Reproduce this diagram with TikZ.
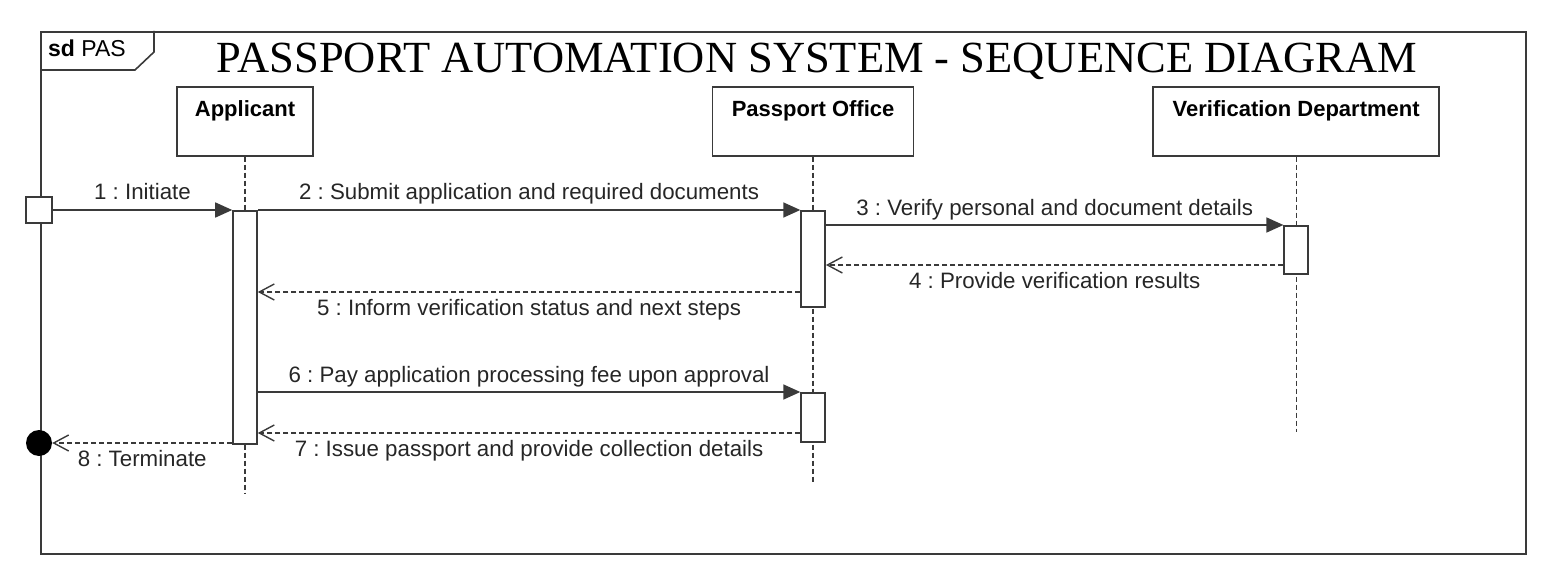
\documentclass[tikz,border=0pt]{standalone}
\usepackage{fontspec}
\setmainfont{Liberation Sans}
\newfontfamily\titlefont{Liberation Serif}
\usetikzlibrary{%
    arrows.meta,
    positioning
}
\frenchspacing
\definecolor{umlline}{HTML}{3A3A3A}
\tikzset{lifehead/.style = {draw=umlline, line width=1.6pt, fill=white, inner ysep=12pt, text height=18pt, text depth=27pt, font=\fontsize{22}{26}\selectfont\bfseries}}
\tikzset{actbar/.style = {draw=umlline, line width=1.6pt, fill=white, minimum width=24pt, anchor=north, inner sep=0pt}}
\tikzset{lifeline/.style = {umlline, line width=1.4pt, dash pattern=on 5pt off 3pt}}
\tikzset{callarrow/.style = {umlline, line width=1.6pt, -{Triangle[length=17pt,width=15pt]}}}
\tikzset{replyarrow/.style = {umlline, line width=1.4pt, dash pattern=on 5pt off 3pt, -{Straight Barb[length=15pt,width=16pt]}}}
\tikzset{msglabel/.style = {font=\fontsize{22.3}{26}\selectfont, text=black!85, inner sep=0pt, anchor=base}}

\begin{document}
\begin{tikzpicture}[x=1pt, y=-1pt]
    \useasboundingbox (0,0) rectangle (1558,580);

    % frame and title
    \node[draw=umlline, line width=1.6pt, minimum width=1485pt, minimum height=522pt, anchor=north west, inner sep=0pt] (frame) at (40,31) {};
    \draw[umlline, line width=1.6pt] (154,31) -- (154,52) -- (135,70) -- (frame.north west |- 0,70);
    \node[anchor=base west, inner sep=0pt, font=\fontsize{23}{27}\selectfont] (tab) at (48,57) {\textbf{sd} PAS};
    \node[anchor=base, inner sep=0pt, font=\titlefont\fontsize{44.5}{50}\selectfont] (title) at (817,73) {PASSPORT AUTOMATION SYSTEM - SEQUENCE DIAGRAM};

    % lifeline heads
    \node[lifehead, minimum width=136pt, anchor=north] (appl) at (245,86) {Applicant};
    \node[lifehead, minimum width=201pt] (office) [right=398pt of appl] {Passport Office};
    \node[lifehead, minimum width=286pt] (verif) [right=238pt of office] {Verification Department};

    % lifelines
    \foreach \Head/\Len in {appl/337, office/325, verif/275}
        {
        \path (\Head.south) ++(0,\Len) coordinate (\Head-end);
        \draw[lifeline] (\Head.south) -- (\Head-end);
        }

    % activation bars
    \node[actbar, minimum height=233pt] (appl-act) at (appl.south |- 0,210) {};
    \node[actbar, minimum height=96pt] (office-act1) at (office.south |- 0,210) {};
    \node[actbar, minimum height=49pt] (office-act2) at (office.south |- 0,392) {};
    \node[actbar, minimum height=48pt] (verif-act) at (verif.south |- 0,225) {};

    % found and lost ends
    \node[draw=umlline, line width=1.6pt, fill=white, minimum size=26pt, inner sep=0pt] (found) at (39,210) {};
    \node[circle, fill=black, minimum size=26pt, inner sep=0pt] (term) at (39,443) {};

    % calls
    \foreach \Num/\Source/\Target/\Row/\Label in {%
        1/found/appl-act/210/Initiate,
        2/appl-act/office-act1/210/Submit application and required documents,
        3/office-act1/verif-act/225/Verify personal and document details,
        6/appl-act/office-act2/392/Pay application processing fee upon approval%
        }
        \draw[callarrow] (\Source.east |- 0,\Row) to node (msg\Num) [msglabel, yshift=10pt] {\Num\ : \Label} (\Target.west |- 0,\Row);

    % replies
    \foreach \Num/\Source/\Target/\Row/\Label in {%
        4/verif-act/office-act1/265/Provide verification results,
        5/office-act1/appl-act/292/Inform verification status and next steps,
        7/office-act2/appl-act/433/Issue passport and provide collection details,
        8/appl-act/term/443/Terminate%
        }
        \draw[replyarrow] (\Source.west |- 0,\Row) to node (msg\Num) [msglabel, yshift=-23pt] {\Num\ : \Label} (\Target.east |- 0,\Row);
\end{tikzpicture}
\end{document}
